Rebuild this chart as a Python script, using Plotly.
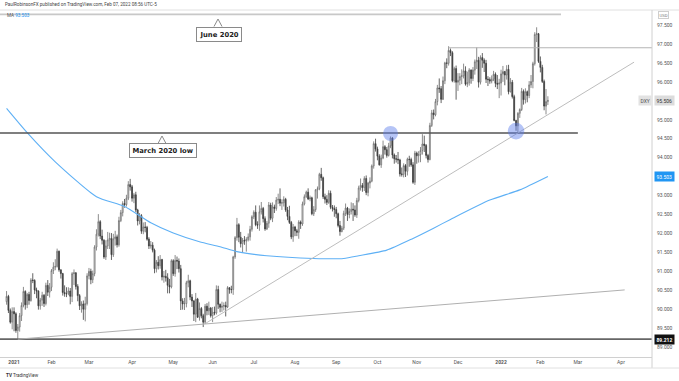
import pandas as pd
import plotly.graph_objects as go

# ---------------- data ----------------
opens = [
    90.20, 90.34, 89.97, 89.66,
    89.94, 89.88, 89.44, 89.53, 89.83, 90.10, 90.47, 90.12, 90.39, 90.23, 90.77, 90.76, 90.51, 90.48, 90.09, 90.24, 90.37, 90.15, 90.63, 90.45,
    90.58, 91.02, 91.11, 91.13, 91.53, 91.04, 90.94, 90.44, 90.41, 90.41, 90.48, 90.34, 90.94, 90.96, 90.60, 90.36, 90.09, 90.14, 90.00, 90.15,
    90.88, 91.00, 90.78, 90.94, 91.64, 91.98, 92.31, 91.93, 91.82, 91.38, 91.67, 91.83, 91.87, 91.44, 91.86, 91.91, 91.70, 92.34, 92.55, 92.79, 92.76, 92.93, 93.29,
    93.23, 92.93, 93.02, 92.62, 92.33, 92.47, 92.06, 92.17, 92.16, 91.85, 91.67, 91.69, 91.56, 91.07, 91.24, 91.15, 91.31, 90.85, 90.87, 90.83, 90.63, 90.59,
    91.28, 90.94, 91.29, 91.27, 91.07, 90.22, 90.14, 90.15, 90.70, 90.75, 90.32, 90.22, 89.87, 90.27, 89.79, 90.02, 89.83, 89.66, 90.08, 89.96, 90.03,
    89.83, 89.92, 89.90, 90.52, 90.13, 90.05, 90.08, 90.10, 90.06, 90.57, 90.52, 90.52, 91.38, 91.89, 92.23, 91.90, 91.73, 91.82, 91.80, 91.84, 91.91, 92.11,
    92.44, 92.56, 92.23, 92.22, 92.57, 92.66, 92.39, 92.12, 92.27, 92.75, 92.40, 92.70, 92.66, 92.88, 92.90, 92.80, 92.81, 92.90, 92.62, 92.45, 92.29, 91.91,
    92.17, 92.07, 92.03, 92.30, 92.25, 92.78, 92.97, 93.09, 92.91, 92.94, 92.52, 92.63, 93.15, 93.18, 93.56, 93.47, 92.97, 92.90, 92.82, 93.06, 92.69, 92.66,
    92.63, 92.52, 92.21, 92.05, 92.14, 92.53, 92.67, 92.50, 92.58, 92.64, 92.62, 92.49, 92.87, 93.20, 93.27, 93.21, 93.45, 93.08, 93.33, 93.38, 93.78, 94.37,
    94.23, 94.04, 93.81, 93.99, 94.29, 94.21, 94.06, 94.31, 94.52, 94.07, 93.97, 93.96, 93.94, 93.57, 93.56, 93.79, 93.64, 93.96, 93.95, 93.81, 93.35,
    94.12, 94.05, 94.08, 94.19, 94.36, 94.32, 94.06, 93.95, 94.85, 95.18, 95.13, 95.48, 95.84, 95.82, 95.54, 96.03, 96.50, 96.49, 96.83, 96.77, 96.03, 96.35,
    95.99, 96.04, 96.14, 96.16, 96.29, 95.94, 95.98, 96.31, 96.09, 96.31, 96.53, 96.57, 95.99, 96.64, 96.57, 96.49, 96.07, 96.06, 96.02, 96.07, 96.20, 95.96, 95.94,
    95.97, 96.21, 96.27, 96.18, 96.33, 95.74, 95.99, 95.61, 94.98, 94.84, 95.17, 95.27, 95.75, 95.53, 95.74, 95.64, 95.92, 96.01, 96.48, 97.25, 97.27,
    96.54, 96.38, 96.01, 95.36, 95.48,
]
highs = [
    90.48, 90.38, 90.02, 90.05,
    90.05, 89.92, 89.61, 89.90, 90.18, 90.59, 90.50, 90.43, 90.46, 90.82, 90.95, 90.79, 90.57, 90.50, 90.30, 90.46, 90.40, 90.70, 90.77, 90.69,
    91.06, 91.24, 91.32, 91.60, 91.55, 91.05, 90.96, 90.63, 90.58, 90.58, 90.56, 90.98, 91.05, 90.98, 90.66, 90.40, 90.21, 90.23, 90.33, 90.95,
    91.09, 91.07, 91.02, 91.69, 92.11, 92.51, 92.35, 92.10, 91.85, 91.82, 92.04, 92.02, 92.01, 91.99, 92.07, 91.97, 92.44, 92.62, 92.85, 92.91, 93.02, 93.38, 93.44,
    93.28, 93.07, 93.10, 92.65, 92.54, 92.51, 92.29, 92.30, 92.20, 91.90, 91.80, 91.77, 91.60, 91.30, 91.40, 91.43, 91.33, 91.01, 91.04, 90.95, 90.80, 91.32,
    91.32, 91.43, 91.39, 91.34, 91.17, 90.29, 90.30, 90.75, 90.91, 90.78, 90.40, 90.24, 90.43, 90.30, 90.18, 90.06, 89.88, 90.14, 90.16, 90.20, 90.06,
    90.06, 90.07, 90.63, 90.62, 90.15, 90.20, 90.18, 90.20, 90.61, 90.58, 90.62, 91.41, 91.93, 92.41, 92.27, 92.04, 91.88, 91.93, 91.90, 92.00, 92.20, 92.48,
    92.61, 92.74, 92.32, 92.74, 92.83, 92.70, 92.45, 92.33, 92.83, 92.81, 92.82, 92.76, 92.96, 93.05, 93.19, 92.90, 92.98, 92.94, 92.70, 92.73, 92.33, 92.25,
    92.20, 92.12, 92.35, 92.34, 92.84, 93.03, 93.13, 93.19, 93.00, 92.97, 92.72, 93.17, 93.24, 93.60, 93.73, 93.50, 93.05, 93.01, 93.14, 93.13, 92.75, 92.74,
    92.70, 92.55, 92.33, 92.20, 92.60, 92.79, 92.70, 92.66, 92.82, 92.80, 92.74, 92.94, 93.26, 93.45, 93.33, 93.51, 93.53, 93.36, 93.48, 93.82, 94.43, 94.50,
    94.29, 94.09, 94.08, 94.45, 94.33, 94.28, 94.39, 94.56, 94.54, 94.11, 94.07, 94.15, 93.97, 93.74, 93.85, 93.83, 94.00, 94.05, 94.00, 93.88, 94.18,
    94.16, 94.17, 94.28, 94.62, 94.58, 94.36, 94.10, 94.92, 95.26, 95.27, 95.55, 95.92, 96.09, 95.89, 96.14, 96.53, 96.62, 96.94, 96.88, 96.81, 96.40, 96.43,
    96.23, 96.23, 96.33, 96.48, 96.41, 96.27, 96.36, 96.33, 96.39, 96.59, 96.91, 96.66, 96.70, 96.76, 96.62, 96.58, 96.15, 96.12, 96.17, 96.29, 96.25, 96.18, 96.08,
    96.32, 96.42, 96.29, 96.44, 96.45, 96.10, 96.05, 95.66, 95.00, 95.20, 95.30, 95.84, 95.80, 95.83, 95.77, 96.02, 96.18, 96.53, 97.31, 97.44, 97.29,
    96.67, 96.45, 96.06, 95.81, 95.62,
]
lows = [
    90.12, 89.90, 89.62, 89.47,
    89.42, 89.38, 89.21, 89.41, 89.69, 90.05, 89.99, 90.03, 90.12, 90.20, 90.69, 90.40, 90.29, 89.99, 89.99, 90.09, 90.06, 90.10, 90.35, 90.31,
    90.48, 90.93, 91.03, 91.10, 90.99, 90.81, 90.36, 90.33, 90.32, 90.37, 90.13, 90.19, 90.64, 90.52, 90.21, 89.98, 89.91, 89.72, 89.68, 90.10,
    90.79, 90.66, 90.69, 90.87, 91.55, 91.92, 91.85, 91.71, 91.33, 91.30, 91.59, 91.59, 91.30, 91.38, 91.68, 91.63, 91.65, 92.30, 92.45, 92.68, 92.71, 92.88, 93.13,
    92.84, 92.80, 92.56, 92.21, 92.24, 91.99, 91.98, 92.03, 91.81, 91.59, 91.60, 91.50, 90.95, 90.97, 91.05, 91.07, 90.76, 90.70, 90.73, 90.42, 90.42, 90.55,
    90.88, 90.86, 91.06, 90.97, 89.98, 89.99, 89.98, 90.05, 90.58, 90.24, 90.06, 89.69, 89.66, 89.77, 89.70, 89.76, 89.53, 89.61, 89.84, 89.85, 89.78,
    89.66, 89.84, 89.86, 90.01, 89.92, 89.93, 89.97, 89.81, 90.03, 90.41, 90.42, 90.38, 91.33, 91.81, 91.77, 91.63, 91.51, 91.70, 91.52, 91.79, 91.81, 92.05,
    92.38, 92.19, 92.12, 92.07, 92.50, 92.29, 92.07, 92.09, 92.15, 92.35, 92.30, 92.54, 92.60, 92.78, 92.72, 92.62, 92.71, 92.57, 92.35, 92.25, 91.85, 91.78,
    91.93, 91.93, 91.86, 92.12, 92.20, 92.74, 92.94, 92.88, 92.85, 92.48, 92.46, 92.57, 92.92, 93.14, 93.39, 92.91, 92.79, 92.75, 92.78, 92.64, 92.58, 92.44,
    92.40, 92.16, 91.94, 92.03, 92.09, 92.46, 92.33, 92.40, 92.50, 92.33, 92.44, 92.41, 92.82, 93.13, 93.10, 93.12, 93.01, 92.98, 93.19, 93.35, 93.71, 94.16,
    93.93, 93.79, 93.73, 93.96, 94.08, 94.00, 94.03, 94.25, 93.98, 93.84, 93.87, 93.83, 93.50, 93.50, 93.48, 93.49, 93.53, 93.76, 93.76, 93.31, 93.28,
    93.84, 93.87, 93.88, 94.08, 94.15, 93.98, 93.87, 93.93, 94.81, 95.01, 95.09, 95.38, 95.71, 95.44, 95.52, 95.94, 96.36, 96.43, 96.68, 95.99, 95.98, 95.53,
    95.76, 95.91, 95.94, 96.09, 95.90, 95.86, 95.90, 95.95, 96.02, 96.19, 96.34, 95.85, 95.93, 96.37, 96.26, 95.97, 95.89, 95.95, 95.96, 96.02, 95.86, 95.81, 95.57,
    95.64, 96.00, 95.91, 96.06, 95.67, 95.72, 95.56, 94.96, 94.71, 94.63, 95.05, 95.23, 95.40, 95.43, 95.46, 95.57, 95.84, 95.83, 96.43, 97.05, 96.50,
    96.25, 95.97, 95.25, 95.14, 95.39,
]
closes = [
    90.34, 89.97, 89.66, 89.94,
    89.88, 89.44, 89.53, 89.83, 90.10, 90.47, 90.12, 90.39, 90.23, 90.77, 90.76, 90.51, 90.48, 90.09, 90.24, 90.37, 90.15, 90.63, 90.45, 90.58,
    91.02, 91.11, 91.13, 91.53, 91.04, 90.94, 90.44, 90.41, 90.41, 90.48, 90.34, 90.94, 90.96, 90.60, 90.36, 90.09, 90.14, 90.00, 90.15, 90.88,
    91.00, 90.78, 90.94, 91.64, 91.98, 92.31, 91.93, 91.82, 91.38, 91.67, 91.83, 91.87, 91.44, 91.86, 91.91, 91.70, 92.34, 92.55, 92.79, 92.76, 92.93, 93.29, 93.23,
    92.93, 93.02, 92.62, 92.33, 92.47, 92.06, 92.17, 92.16, 91.85, 91.67, 91.69, 91.56, 91.07, 91.24, 91.15, 91.31, 90.85, 90.87, 90.83, 90.63, 90.59, 91.28,
    90.94, 91.29, 91.27, 91.07, 90.22, 90.14, 90.15, 90.70, 90.75, 90.32, 90.22, 89.87, 90.27, 89.79, 90.02, 89.83, 89.66, 90.08, 89.96, 90.03, 89.83,
    89.92, 89.90, 90.52, 90.13, 90.05, 90.08, 90.10, 90.06, 90.57, 90.52, 90.52, 91.38, 91.89, 92.23, 91.90, 91.73, 91.82, 91.80, 91.84, 91.91, 92.11, 92.44,
    92.56, 92.23, 92.22, 92.57, 92.66, 92.39, 92.12, 92.27, 92.75, 92.40, 92.70, 92.66, 92.88, 92.90, 92.80, 92.81, 92.90, 92.62, 92.45, 92.29, 91.91, 92.17,
    92.07, 92.03, 92.30, 92.25, 92.78, 92.97, 93.09, 92.91, 92.94, 92.52, 92.63, 93.15, 93.18, 93.56, 93.47, 92.97, 92.90, 92.82, 93.06, 92.69, 92.66, 92.63,
    92.52, 92.21, 92.05, 92.14, 92.53, 92.67, 92.50, 92.58, 92.64, 92.62, 92.49, 92.87, 93.20, 93.27, 93.21, 93.45, 93.08, 93.33, 93.38, 93.78, 94.37, 94.23,
    94.04, 93.81, 93.99, 94.29, 94.21, 94.06, 94.31, 94.52, 94.07, 93.97, 93.96, 93.94, 93.57, 93.56, 93.79, 93.64, 93.96, 93.95, 93.81, 93.35, 94.12,
    94.05, 94.08, 94.19, 94.36, 94.32, 94.06, 93.95, 94.85, 95.18, 95.13, 95.48, 95.84, 95.82, 95.54, 96.03, 96.50, 96.49, 96.83, 96.77, 96.03, 96.35, 95.99,
    96.04, 96.14, 96.16, 96.29, 95.94, 95.98, 96.31, 96.09, 96.31, 96.53, 96.57, 95.99, 96.64, 96.57, 96.49, 96.07, 96.06, 96.02, 96.07, 96.20, 95.96, 95.94, 95.97,
    96.21, 96.27, 96.18, 96.33, 95.74, 95.99, 95.61, 94.98, 94.84, 95.17, 95.27, 95.75, 95.53, 95.74, 95.64, 95.92, 96.01, 96.48, 97.25, 97.27, 96.54,
    96.38, 96.01, 95.36, 95.48, 95.51,
]
holidays = ["2021-01-01"]
dates = [d for d in pd.bdate_range("2020-12-28", "2022-02-07") if d.strftime("%Y-%m-%d") not in holidays]

# 200-day moving average
ma_dates = ["2020-12-28", "2021-01-13", "2021-02-03", "2021-03-05", "2021-03-26", "2021-04-15",
            "2021-05-03", "2021-05-21", "2021-06-07", "2021-06-18", "2021-07-12", "2021-08-16",
            "2021-09-07", "2021-09-17", "2021-10-08", "2021-10-28", "2021-11-12", "2021-11-25",
            "2021-12-24", "2022-01-17", "2022-02-07"]
ma_values = [95.30, 94.66, 93.89, 92.97, 92.71, 92.28, 92.01, 91.78, 91.65, 91.52, 91.41, 91.34,
             91.34, 91.41, 91.56, 91.87, 92.14, 92.37, 92.88, 93.15, 93.503]

# drawn levels / trendlines
june2020_level = 97.78
march2020_low = 94.65
nov_high_level = 96.90
jan2021_low = 89.212
steep_trend_dates = ["2021-05-26", "2022-04-12"]
steep_trend_prices = [89.62, 96.52]
shallow_trend_dates = ["2021-01-06", "2022-04-05"]
shallow_trend_prices = [89.21, 90.51]
touch_dates = ["2021-10-12", "2022-01-13"]
touch_prices = [94.64, 94.70]

tick_dates = ["2021-01-04", "2021-02-01", "2021-03-01", "2021-04-01", "2021-05-03", "2021-06-01",
              "2021-07-01", "2021-08-02", "2021-09-01", "2021-10-01", "2021-11-01", "2021-12-01",
              "2022-01-03", "2022-02-01", "2022-03-01", "2022-04-01"]
tick_labels = ["<b>2021</b>", "Feb", "Mar", "Apr", "May", "Jun", "Jul", "Aug", "Sep", "Oct", "Nov",
               "Dec", "<b>2022</b>", "Feb", "Mar", "Apr"]
price_ticks = [89.0, 89.5, 90.0, 90.5, 91.0, 91.5, 92.0, 92.5, 93.0, 94.0, 94.5, 95.0, 96.0, 96.5, 97.0, 97.5]
last_price = 95.506
last_ma = 93.503

# ---------------- figure ----------------
W, H = 679, 381
PL, PR, PT, PB = 0, 652, 10, 357


def px(x):
    return (x - PL) / (PR - PL)


def py(y):
    return (PB - y) / (PB - PT)


FONT = "Roboto"
fig = go.Figure()

fig.add_trace(go.Scatter(x=ma_dates, y=ma_values, mode="lines",
                         line=dict(color="#5eb0f5", width=1.1, shape="spline", smoothing=0.6),
                         hoverinfo="skip"))

fig.add_trace(go.Candlestick(
    x=dates, open=opens, high=highs, low=lows, close=closes,
    increasing=dict(line=dict(color="#6e6e6e", width=0.8), fillcolor="#ffffff"),
    decreasing=dict(line=dict(color="#3c3c3c", width=0.8), fillcolor="#3c3c3c"),
    whiskerwidth=0,
))

shapes = []
# horizontal levels
shapes.append(dict(type="line", xref="x", yref="y", x0="2020-12-22", x1="2022-02-16",
                   y0=june2020_level, y1=june2020_level, line=dict(color="#c8c8c8", width=1.6)))
shapes.append(dict(type="line", xref="x", yref="y", x0="2020-12-22", x1="2022-03-01",
                   y0=march2020_low, y1=march2020_low, line=dict(color="#555555", width=1.6)))
shapes.append(dict(type="line", xref="x", yref="y", x0="2021-11-24", x1="2022-04-26",
                   y0=nov_high_level, y1=nov_high_level, line=dict(color="#b5b5b5", width=1)))
shapes.append(dict(type="line", xref="paper", yref="y", x0=0, x1=1,
                   y0=jan2021_low, y1=jan2021_low, line=dict(color="#666666", width=1.6)))
# trendlines
shapes.append(dict(type="line", xref="x", yref="y",
                   x0=steep_trend_dates[0], x1=steep_trend_dates[1],
                   y0=steep_trend_prices[0], y1=steep_trend_prices[1],
                   line=dict(color="#bdbdbd", width=1)))
shapes.append(dict(type="line", xref="x", yref="y",
                   x0=shallow_trend_dates[0], x1=shallow_trend_dates[1],
                   y0=shallow_trend_prices[0], y1=shallow_trend_prices[1],
                   line=dict(color="#b0b0b0", width=1)))
# touch circles
for d, p, r in zip(touch_dates, touch_prices, [7.5, 8.3]):
    shapes.append(dict(type="circle", xref="x", yref="y", xsizemode="pixel", ysizemode="pixel",
                       xanchor=d, yanchor=p, x0=-r, x1=r, y0=-r, y1=r,
                       fillcolor="rgba(90,125,235,0.45)", line=dict(width=0)))
# frame lines
shapes.append(dict(type="line", xref="paper", yref="paper", x0=0, x1=W / (PR - PL), y0=1, y1=1,
                   line=dict(color="#e0e0e0", width=1)))
shapes.append(dict(type="line", xref="paper", yref="paper", x0=1, x1=1, y0=py(368), y1=1,
                   line=dict(color="#d0d0d0", width=1)))
shapes.append(dict(type="line", xref="paper", yref="paper", x0=0, x1=W / (PR - PL), y0=py(368), y1=py(368),
                   line=dict(color="#e0e0e0", width=1)))
# callout carets
for cx, top, bot in [(218, 19, 26.5), (162, 136, 143.5)]:
    shapes.append(dict(type="path", xref="paper", yref="paper",
                       path=f"M {px(cx-4)},{py(bot)} L {px(cx)},{py(top)} L {px(cx+4)},{py(bot)}",
                       line=dict(color="#8a8a8a", width=1)))

annotations = []


def note(x, y, text, size, color, xanchor="center", yref="paper", **kw):
    annotations.append(dict(x=x, y=y, xref="paper", yref=yref, text=text, showarrow=False,
                            xanchor=xanchor, yanchor="middle",
                            font=dict(family=kw.pop("family", FONT), size=size, color=color), **kw))


# callouts
note(px(218.5), py(34), "<b>June 2020</b>", 6.8, "#222", family="DejaVu Sans",
     bordercolor="#8a8a8a", borderwidth=1, borderpad=2.5, bgcolor="white")
note(px(162.5), py(150.5), "<b>March 2020 low</b>", 6.8, "#222", family="DejaVu Sans",
     bordercolor="#8a8a8a", borderwidth=1, borderpad=2.5, bgcolor="white")
# header texts
note(px(3), py(4.5), "PaulRobinsonFX published on TradingView.com, Feb 07, 2022 08:56 UTC-5",
     4.6, "#444", xanchor="left")
note(px(5), py(15.5), f"MA <span style='color:#2196f3'>{last_ma:.3f}</span>", 4.6, "#555",
     xanchor="left")
note(px(4), py(375), "<b>TV</b> TradingView", 4.6, "#333", xanchor="left")
# axis tags
note(px(663), py(15.5), "USD", 4.3, "#777", bordercolor="#cfcfcf", borderwidth=1,
     borderpad=0.5, bgcolor="white")
note(px(664.5), last_price, f"{last_price:.3f}", 5, "#333", yref="y", bgcolor="#dcdcdc", borderpad=1.5)
note(px(644.5), last_price, "DXY", 5, "#555", yref="y", bgcolor="#e2e2e2", borderpad=1.5)
note(px(664.5), last_ma, f"{last_ma:.3f}", 5, "#ffffff", yref="y", bgcolor="#2196f3", borderpad=1.5)
note(px(664.5), jan2021_low, f"<b>{jan2021_low:.3f}</b>", 5, "#ffffff", yref="y",
     bgcolor="#111111", borderpad=1.5)

fig.update_layout(
    width=W, height=H,
    margin=dict(l=PL, r=W - PR, t=PT, b=H - PB),
    paper_bgcolor="white", plot_bgcolor="white",
    showlegend=False,
    shapes=shapes, annotations=annotations,
    xaxis=dict(
        type="date",
        range=["2020-12-22 12:00", "2022-04-25 14:00"],
        rangebreaks=[dict(bounds=["sat", "mon"]), dict(values=holidays)],
        rangeslider=dict(visible=False),
        showgrid=False, zeroline=False,
        tickmode="array", tickvals=tick_dates, ticktext=tick_labels,
        tickfont=dict(family=FONT, size=5, color="#555"),
        ticks="", showline=True, linecolor="#d0d0d0", linewidth=1,
    ),
    yaxis=dict(
        side="right",
        range=[88.740, 97.896],
        showgrid=False, zeroline=False,
        tickmode="array", tickvals=price_ticks,
        ticktext=[f"{v:.3f}" for v in price_ticks],
        tickfont=dict(family=FONT, size=5, color="#555"),
        ticks="", showline=False, ticklabelstandoff=4,
    ),
)

fig.write_html("out.html", config={"displayModeBar": False},
               post_script="document.body.style.margin='0px';")
